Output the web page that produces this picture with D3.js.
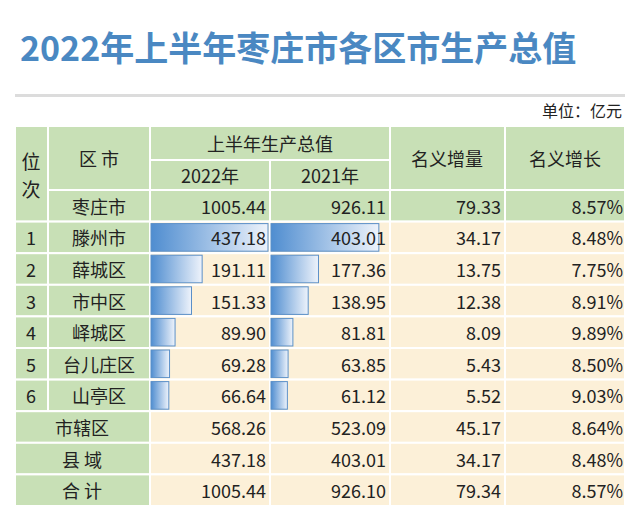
<!DOCTYPE html>
<html>
<head>
<meta charset="utf-8">
<script src="https://cdn.jsdelivr.net/npm/d3@7"></script>
<style>
  body { margin: 0; background: #fff; }
  text { font-family: "Noto Sans CJK SC", sans-serif; }
</style>
</head>
<body>
<svg id="chart" width="640" height="517"></svg>
<script>
// data
const ranks = ["1", "2", "3", "4", "5", "6"];
const districts = ["滕州市", "薛城区", "市中区", "峄城区", "台儿庄区", "山亭区"];
const gdp2022 = [437.18, 191.11, 151.33, 89.90, 69.28, 66.64];
const gdp2021 = [403.01, 177.36, 138.95, 81.81, 63.85, 61.12];
const increase = [34.17, 13.75, 12.38, 8.09, 5.43, 5.52];
const growth = ["8.48%", "7.75%", "8.91%", "9.89%", "8.50%", "9.03%"];
const totalRow = ["枣庄市", 1005.44, 926.11, 79.33, "8.57%"];
const summaryNames = ["市辖区", "县 域", "合 计"];
const summary2022 = [568.26, 437.18, 1005.44];
const summary2021 = [523.09, 403.01, 926.10];
const summaryInc = [45.17, 34.17, 79.34];
const summaryGrowth = ["8.64%", "8.48%", "8.57%"];

const svg = d3.select("#chart");
const green = "#c8e0b6", beige = "#fcf0d8", dark = "#222";
const fmt = d3.format(".2f");

// defs
const grad = svg.append("defs").append("linearGradient").attr("id", "bar");
grad.append("stop").attr("offset", "0%").attr("stop-color", "#4f8dd0");
grad.append("stop").attr("offset", "100%").attr("stop-color", "#eef3fb");

// title
svg.append("text").attr("x", 20).attr("y", 61)
  .attr("font-size", 34).attr("font-weight", "bold").attr("fill", "#4a88c2")
  .text("2022年上半年枣庄市各区市生产总值");
svg.append("rect").attr("x", 15).attr("y", 94).attr("width", 610).attr("height", 3).attr("fill", "#dcdcdc");
svg.append("text").attr("x", 622).attr("y", 117).attr("text-anchor", "end")
  .attr("font-size", 16).attr("fill", dark).text("单位：亿元");

// column edges
const cols = [15, 48, 150, 270, 390, 505, 625];
const y = d3.scaleBand().domain(d3.range(10)).range([190, 506]);
const rh = y.bandwidth();

function cell(x0, x1, y0, h, fill) {
  svg.append("rect").attr("x", x0).attr("y", y0).attr("width", x1 - x0).attr("height", h)
    .attr("fill", fill).attr("stroke", "#fff").attr("stroke-width", 2);
}
function txt(x, yy, s, anchor, size) {
  svg.append("text").attr("x", x).attr("y", yy).attr("text-anchor", anchor || "middle")
    .attr("dominant-baseline", "central").attr("font-size", size || 18).attr("fill", dark).text(s);
}

// header
cell(cols[0], cols[1], 126, 64 + rh, green);
cell(cols[1], cols[2], 126, 64, green);
cell(cols[2], cols[4], 126, 34, green);
cell(cols[2], cols[3], 160, 30, green);
cell(cols[3], cols[4], 160, 30, green);
cell(cols[4], cols[5], 126, 64, green);
cell(cols[5], cols[6], 126, 64, green);
txt(31, 160, "位", "middle", 19); txt(31, 188, "次", "middle", 19);
txt(99, 158, "区 市");
txt(270, 143, "上半年生产总值");
txt(210, 175, "2022年"); txt(330, 175, "2021年");
txt(447, 158, "名义增量"); txt(565, 158, "名义增长");

// total row
const r0 = y(0);
for (let i = 1; i < 6; i++) cell(cols[i], cols[i + 1], r0, rh, green);
txt(99, r0 + rh / 2, totalRow[0]);
txt(cols[3] - 4, r0 + rh / 2, fmt(totalRow[1]), "end");
txt(cols[4] - 4, r0 + rh / 2, fmt(totalRow[2]), "end");
txt(cols[5] - 4, r0 + rh / 2, fmt(totalRow[3]), "end");
txt(cols[6] - 2, r0 + rh / 2, totalRow[4], "end");

// district rows with data bars
const xb = d3.scaleLinear().domain([0, d3.max(gdp2022)]).range([0, cols[3] - cols[2] - 3]);
districts.forEach((d, i) => {
  const yy = y(i + 1), cy = yy + rh / 2;
  cell(cols[0], cols[1], yy, rh, green);
  cell(cols[1], cols[2], yy, rh, green);
  for (let c = 2; c < 6; c++) cell(cols[c], cols[c + 1], yy, rh, beige);
  [[gdp2022[i], cols[2]], [gdp2021[i], cols[3]]].forEach(([v, x0]) => {
    svg.append("rect").attr("x", x0 + 1).attr("y", yy + 2).attr("width", xb(v)).attr("height", rh - 4)
      .attr("fill", "url(#bar)").attr("stroke", "#5a8fc8").attr("stroke-width", 1);
  });
  txt(31, cy, ranks[i]);
  txt(99, cy, d);
  txt(cols[3] - 4, cy, fmt(gdp2022[i]), "end");
  txt(cols[4] - 4, cy, fmt(gdp2021[i]), "end");
  txt(cols[5] - 4, cy, fmt(increase[i]), "end");
  txt(cols[6] - 2, cy, growth[i], "end");
});

// summary rows
summaryNames.forEach((d, i) => {
  const yy = y(i + 7), cy = yy + rh / 2;
  cell(cols[0], cols[2], yy, rh, green);
  for (let c = 2; c < 6; c++) cell(cols[c], cols[c + 1], yy, rh, beige);
  txt(82, cy, d);
  txt(cols[3] - 4, cy, fmt(summary2022[i]), "end");
  txt(cols[4] - 4, cy, fmt(summary2021[i]), "end");
  txt(cols[5] - 4, cy, fmt(summaryInc[i]), "end");
  txt(cols[6] - 2, cy, summaryGrowth[i], "end");
});
</script>
</body>
</html>
